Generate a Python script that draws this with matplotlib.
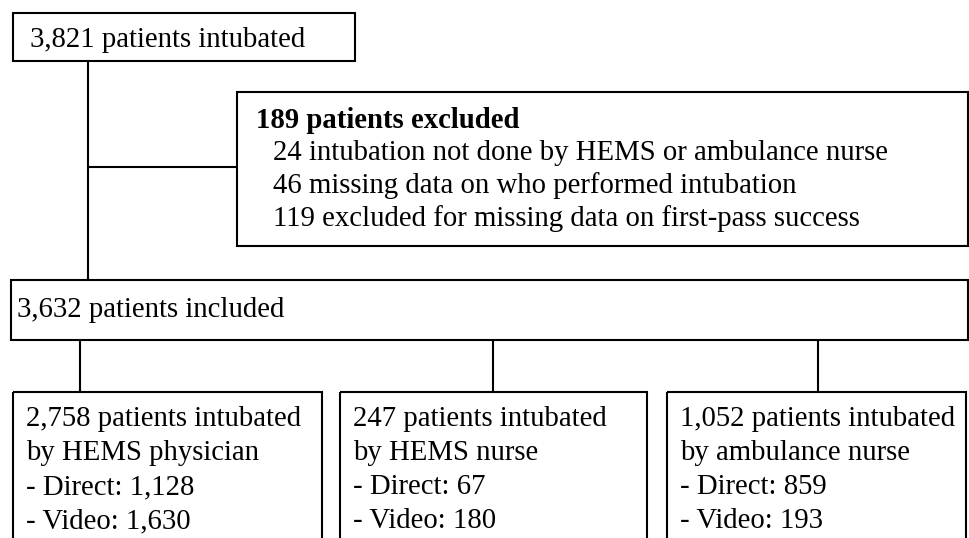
import matplotlib
matplotlib.use("Agg")
import matplotlib.pyplot as plt
from matplotlib.patches import Rectangle

plt.rcParams['font.family'] = ['Liberation Serif', 'DejaVu Serif']

# flow counts
total_intubated = 3821
excluded_total = 189
excluded_counts = [24, 46, 119]
excluded_reasons = ["intubation not done by HEMS or ambulance nurse",
                    "missing data on who performed intubation",
                    "excluded for missing data on first-pass success"]
included_total = 3632
group_names = ["HEMS physician", "HEMS nurse", "ambulance nurse"]
group_totals = [2758, 247, 1052]
group_direct = [1128, 67, 859]
group_video = [1630, 180, 193]

W, H = 970, 538
fig = plt.figure(figsize=(W / 100, H / 100), dpi=100)
ax = fig.add_axes([0, 0, 1, 1])
ax.set_xlim(0, W)
ax.set_ylim(H, 0)
ax.axis('off')

lw = 1.5
fs = 20.7


def box(x0, y0, x1, y1):
    ax.add_patch(Rectangle((x0, y0), x1 - x0, y1 - y0, fill=False,
                           edgecolor='black', linewidth=lw, clip_on=False))


def line(xs, ys):
    ax.plot(xs, ys, color='black', linewidth=lw, solid_capstyle='butt')


# top box
box(13, 13, 355, 61)
ax.text(30, 40, f"{total_intubated:,} patients intubated", fontsize=fs, va='center')

# main stem and branch to exclusions
line([88, 88], [61, 280])
line([88, 237], [167, 167])

# exclusion box
box(237, 92, 968, 246)
ax.text(256, 121, f"{excluded_total} patients excluded", fontsize=fs,
        va='center', fontweight='bold')
for i, (n, reason) in enumerate(zip(excluded_counts, excluded_reasons)):
    ax.text(273, 153 + i * 33, f"{n} {reason}", fontsize=fs, va='center')

# included box
box(11, 280, 968, 340)
ax.text(17, 310, f"{included_total:,} patients included", fontsize=fs, va='center')

# group boxes
group_box_x = [(13, 322), (340, 647), (667, 966)]
stem_x = [80, 493, 818]
for k in range(len(group_names)):
    line([stem_x[k], stem_x[k]], [340, 392])
    x0, x1 = group_box_x[k]
    box(x0, 392, x1, 560)
    rows = [f"{group_totals[k]:,} patients intubated",
            f"by {group_names[k]}",
            f"- Direct: {group_direct[k]:,}",
            f"- Video: {group_video[k]:,}"]
    for j, r in enumerate(rows):
        ax.text(x0 + 13, 419 + j * 34, r, fontsize=fs, va='center')

fig.savefig("out.png", dpi=100)
